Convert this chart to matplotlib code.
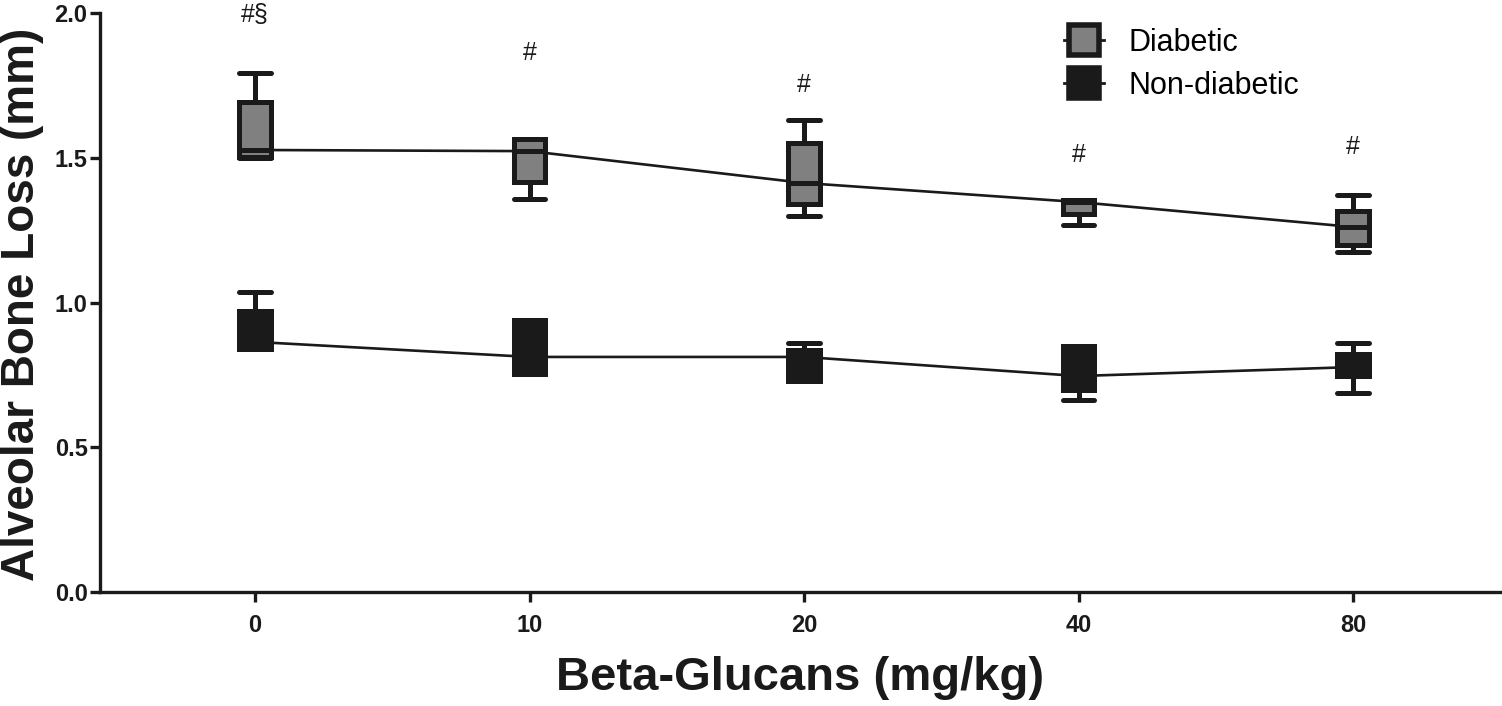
import matplotlib
matplotlib.use('Agg')
import matplotlib.pyplot as plt
from matplotlib.lines import Line2D
import numpy as np

plt.rcParams['font.family'] = ['Liberation Sans', 'DejaVu Sans']

# Doses on the x axis
doses = ['0', '10', '20', '40', '80']

# Diabetic group (box stats)
diab_whislo = [1.500, 1.357, 1.299, 1.268, 1.175]
diab_q1 = [1.503, 1.416, 1.340, 1.306, 1.199]
diab_med = [1.527, 1.523, 1.413, 1.347, 1.261]
diab_q3 = [1.693, 1.565, 1.551, 1.354, 1.316]
diab_whishi = [1.793, 1.565, 1.630, 1.354, 1.371]

# Non-diabetic group
non_whislo = [0.839, 0.753, 0.729, 0.663, 0.687]
non_q1 = [0.839, 0.753, 0.729, 0.698, 0.746]
non_med = [0.864, 0.812, 0.812, 0.746, 0.777]
non_q3 = [0.971, 0.940, 0.836, 0.850, 0.822]
non_whishi = [1.036, 0.940, 0.860, 0.850, 0.860]

# Significance marks
sig_labels = ['#§', '#', '#', '#', '#']
sig_y = [1.993, 1.862, 1.751, 1.510, 1.537]

dark = '#1a1a1a'
gray = '#808080'


def make_stats(lo, q1, med, q3, hi):
    return [dict(whislo=a, q1=b, med=c, q3=d, whishi=e)
            for a, b, c, d, e in zip(lo, q1, med, q3, hi)]


fig = plt.figure(figsize=(15.02, 7.06), dpi=100)
ax = fig.add_axes([0.0666, 0.1615, 0.932, 0.82])

pos = np.arange(len(doses))
lw = 3.6
bw = 0.115

# connecting lines through the medians
ax.plot(pos, diab_med, color=dark, lw=1.9, zorder=1)
ax.plot(pos, non_med, color=dark, lw=1.9, zorder=1)

for stats, fc in [(make_stats(diab_whislo, diab_q1, diab_med, diab_q3, diab_whishi), gray),
                  (make_stats(non_whislo, non_q1, non_med, non_q3, non_whishi), dark)]:
    ax.bxp(stats, positions=pos, widths=bw, showfliers=False, patch_artist=True,
           boxprops=dict(facecolor=fc, edgecolor=dark, linewidth=lw),
           medianprops=dict(color=dark, linewidth=lw),
           whiskerprops=dict(color=dark, linewidth=lw),
           capprops=dict(color=dark, linewidth=lw, solid_capstyle='round'),
           capwidths=bw, manage_ticks=False, zorder=2)

for x, lab, y in zip(pos, sig_labels, sig_y):
    ax.text(x, y, lab, ha='center', va='center', fontsize=18, color=dark)

ax.set_xlim(-0.565, 4.535)
ax.set_ylim(0, 2.0)
ax.set_xticks(pos)
ax.set_xticklabels(doses)
ax.set_yticks([0.0, 0.5, 1.0, 1.5, 2.0])
ax.set_yticklabels(['0.0', '0.5', '1.0', '1.5', '2.0'])

for s in ['top', 'right']:
    ax.spines[s].set_visible(False)
for s in ['left', 'bottom']:
    ax.spines[s].set_linewidth(2.4)
    ax.spines[s].set_color(dark)
ax.tick_params(width=2.4, length=7, color=dark, labelsize=17)
ax.tick_params(axis='y', pad=2)
ax.tick_params(axis='x', pad=9)
for t in ax.get_xticklabels() + ax.get_yticklabels():
    t.set_fontweight('bold')
    t.set_color(dark)

ax.set_xlabel('Beta-Glucans (mg/kg)', fontsize=34, fontweight='bold', color=dark)
ax.set_ylabel('Alveolar Bone Loss (mm)', fontsize=33, fontweight='bold', color=dark)
ax.xaxis.set_label_coords(0.5, -0.11)
ax.yaxis.set_label_coords(-0.040, 0.496)

handles = [Line2D([0], [0], color=dark, lw=2, marker='s', markersize=22,
                  markerfacecolor=gray, markeredgecolor=dark, markeredgewidth=4),
           Line2D([0], [0], color=dark, lw=2, marker='s', markersize=22,
                  markerfacecolor=dark, markeredgecolor=dark, markeredgewidth=4)]
ax.legend(handles, ['Diabetic', 'Non-diabetic'], loc='upper left',
          bbox_to_anchor=(0.669, 1.022), frameon=False, fontsize=22,
          handlelength=1.3, handletextpad=0.8, labelspacing=0.42)

fig.savefig('out.png', dpi=100)
